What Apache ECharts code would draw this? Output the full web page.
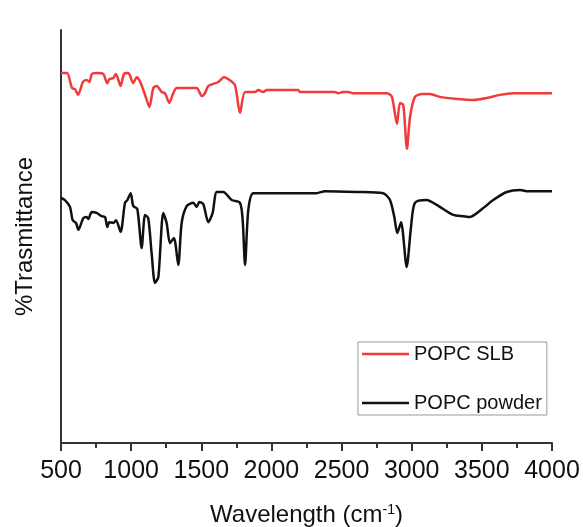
<!DOCTYPE html>
<html>
<head>
<meta charset="utf-8">
<script src="https://cdn.jsdelivr.net/npm/echarts@6/dist/echarts.min.js"></script>
<style>
html,body{margin:0;padding:0;background:#fff;}
#chart{width:583px;height:527px;}
</style>
</head>
<body>
<div id="chart"></div>
<script>
const seriesNames = ['POPC SLB', 'POPC powder'];
const xTicks = [500, 1000, 1500, 2000, 2500, 3000, 3500, 4000];

const slbWavenumber = [500, 543, 578, 600, 621, 657, 683, 702, 721, 764, 801, 830, 844, 873, 892, 925, 949, 980, 1015, 1040, 1063, 1099, 1130, 1158, 1182, 1218, 1241, 1272, 1300, 1325, 1467, 1503, 1526, 1550, 1621, 1662, 1693, 1740, 1776, 1812, 1883, 1907, 1942, 1966, 2191, 2203, 2453, 2475, 2510, 2550, 2581, 2824, 2859, 2895, 2916, 2940, 2966, 2988, 3023, 3073, 3130, 3201, 3323, 3437, 3536, 3629, 3722, 4000];
const slbTransmittance = [91.8, 91.8, 88.1, 87.8, 86.4, 89.6, 90.1, 89.6, 91.6, 91.8, 91.6, 89.3, 90.3, 90.6, 91.6, 88.6, 91.6, 91.8, 89.3, 90.8, 89.8, 86.4, 83.4, 88.1, 88.6, 87.1, 86.8, 84.4, 86.8, 88.1, 88.1, 86.1, 86.8, 88.6, 89.6, 90.8, 90.3, 88.8, 81.9, 87.1, 87.1, 87.6, 87.1, 87.6, 87.6, 87.1, 87.1, 86.8, 87.1, 87.1, 86.8, 86.8, 85.9, 79.2, 84.4, 83.9, 73.0, 80.9, 85.9, 86.6, 86.6, 85.9, 85.4, 85.1, 85.6, 86.4, 86.8, 86.8];

const powderWavenumber = [500, 528, 564, 583, 607, 624, 659, 683, 695, 719, 754, 790, 814, 830, 844, 873, 892, 925, 956, 973, 997, 1015, 1044, 1075, 1099, 1122, 1146, 1170, 1194, 1229, 1253, 1277, 1305, 1336, 1360, 1396, 1443, 1467, 1486, 1514, 1550, 1581, 1610, 1657, 1717, 1776, 1795, 1812, 1835, 1871, 2085, 2204, 2322, 2382, 2608, 2797, 2845, 2876, 2897, 2924, 2964, 2995, 3023, 3107, 3178, 3296, 3368, 3415, 3510, 3581, 3677, 3772, 3819, 4000];
const powderTransmittance = [60.8, 60.3, 58.6, 55.3, 54.6, 52.9, 55.8, 56.1, 55.6, 57.3, 57.1, 56.3, 56.1, 53.6, 54.8, 54.6, 55.3, 52.4, 59.6, 60.3, 62.0, 58.8, 58.1, 48.4, 56.6, 55.8, 47.1, 39.7, 41.2, 57.1, 54.6, 49.6, 50.9, 44.2, 54.6, 58.8, 59.6, 58.6, 59.8, 59.3, 54.8, 57.1, 62.3, 62.3, 60.3, 59.6, 55.3, 44.2, 57.8, 62.0, 62.0, 62.0, 62.0, 62.5, 62.3, 62.0, 60.3, 56.1, 52.1, 54.8, 43.7, 53.6, 59.6, 60.3, 59.1, 56.6, 56.3, 56.1, 58.3, 60.3, 62.3, 62.8, 62.5, 62.5];

function pairs(xs, ys) { return xs.map((x, i) => [x, ys[i]]); }

const FONT = '"Liberation Sans", Arial, sans-serif';
const chart = echarts.init(document.getElementById('chart'), null, {renderer: 'canvas'});
chart.setOption({
  animation: false,
  backgroundColor: '#fff',
  grid: {left: 61, right: 31, top: 30, bottom: 84, containLabel: false, outerBoundsMode: 'none'},
  legend: {
    orient: 'vertical',
    left: 358, top: 342,
    padding: [2, 5, 2, 4],
    itemGap: 29,
    itemWidth: 47, itemHeight: 2.5,
    icon: 'rect',
    borderColor: '#999', borderWidth: 1,
    textStyle: {fontFamily: FONT, fontSize: 20, color: '#111'},
    data: seriesNames
  },
  xAxis: {
    type: 'value', min: xTicks[0], max: xTicks[xTicks.length - 1], interval: 500,
    axisLine: {show: true, onZero: false, lineStyle: {color: '#333', width: 2}},
    axisTick: {show: true, length: 8, lineStyle: {color: '#333', width: 2}},
    minorTick: {show: true, splitNumber: 2, length: 5, lineStyle: {color: '#333', width: 2}},
    splitLine: {show: false},
    axisLabel: {fontFamily: FONT, fontSize: 25, color: '#111', margin: 16, formatter: v => String(v)},
    name: 'Wavelength (cm{sup|-1})',
    nameLocation: 'middle', nameGap: 60,
    nameTextStyle: {fontFamily: FONT, fontSize: 24, color: '#111',
      rich: {sup: {fontFamily: FONT, fontSize: 14, color: '#111', verticalAlign: 'top', padding: [0, 0, 10, 0]}}}
  },
  yAxis: {
    type: 'value', min: 0, max: 102.5,
    axisLine: {show: true, lineStyle: {color: '#333', width: 2}},
    axisTick: {show: false}, axisLabel: {show: false}, splitLine: {show: false},
    name: '%Trasmittance', nameLocation: 'middle', nameGap: 24,
    nameTextStyle: {fontFamily: FONT, fontSize: 24, color: '#111'}
  },
  series: [
    {name: seriesNames[0], type: 'line', data: pairs(slbWavenumber, slbTransmittance),
     showSymbol: false, smooth: 0.25, lineStyle: {color: '#f23a3a', width: 2.5}, itemStyle: {color: '#f23a3a'}},
    {name: seriesNames[1], type: 'line', data: pairs(powderWavenumber, powderTransmittance),
     showSymbol: false, smooth: 0.25, lineStyle: {color: '#111', width: 2.5}, itemStyle: {color: '#111'}}
  ]
});
</script>
</body>
</html>
